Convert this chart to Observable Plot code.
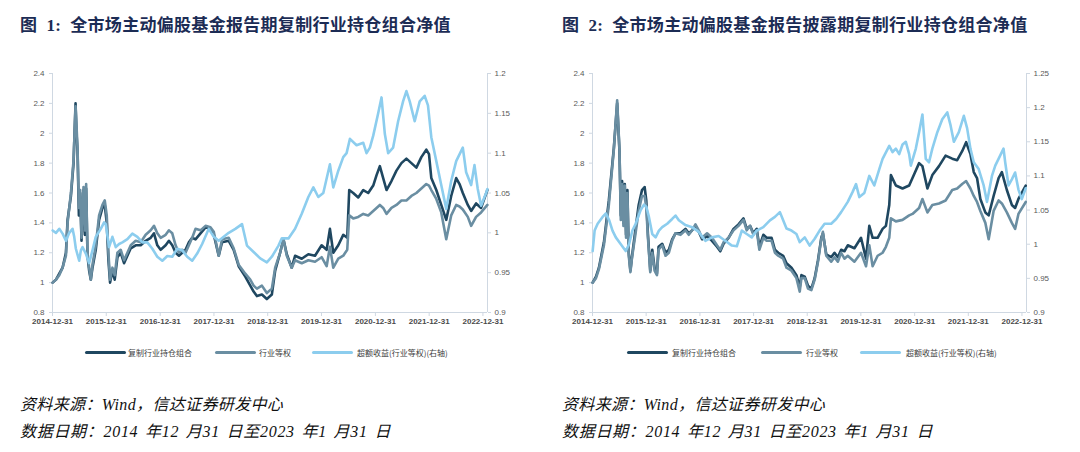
<!DOCTYPE html>
<html>
<head>
<meta charset="utf-8">
<script src="https://cdn.jsdelivr.net/npm/d3@7"></script>
<script src="https://cdn.jsdelivr.net/npm/@observablehq/plot@0.6"></script>
<style>
  html, body { margin: 0; padding: 0; background: #fff; }
  #page { position: relative; width: 1080px; height: 452px; overflow: hidden; background: #fff; }
  .title { position: absolute; top: 11px; font-family: "Liberation Serif", "Noto Sans CJK SC", serif; font-weight: 700; font-size: 17px; color: #1c2c55; white-space: pre; letter-spacing: 0.3px; }
  .chart { position: absolute; top: 60px; }
  .leg { position: absolute; top: 347px; height: 12px; font-family: "Noto Sans CJK SC", sans-serif; font-size: 8px; color: #404040; line-height: 12px; white-space: nowrap; }
  .sw { position: absolute; top: 351px; height: 3px; border-radius: 2px; }
  .note { position: absolute; font-family: "Liberation Serif", "Noto Sans CJK SC", serif; font-style: italic; font-size: 16px; color: #111; white-space: pre; }
</style>
</head>
<body>
<div id="page"></div>
<script>
// ---------------- data (decimal years; values) ----------------
const seriesNames = ["复制行业持仓组合", "行业等权", "超额收益(行业等权)(右轴)"];
const xTickLabels = ["2014-12-31","2015-12-31","2016-12-31","2017-12-31","2018-12-31","2019-12-31","2020-12-31","2021-12-31","2022-12-31"];
const leftTicks = [0.8, 1, 1.2, 1.4, 1.6, 1.8, 2, 2.2, 2.4];
const rightTicks1 = [0.9, 0.95, 1, 1.05, 1.1, 1.15, 1.2];
const rightTicks2 = [0.9, 0.95, 1, 1.05, 1.1, 1.15, 1.2, 1.25];

// Figure 1
const p1Dates = [2015.000,2015.062,2015.123,2015.185,2015.247,2015.278,2015.340,2015.389,2015.426,2015.444,
  2015.463,2015.488,2015.512,2015.537,2015.574,2015.599,2015.623,2015.648,2015.679,2015.710,
  2015.741,2015.802,2015.864,2015.926,2015.969,2016.006,2016.037,2016.068,2016.111,2016.154,
  2016.204,2016.265,2016.327,2016.389,2016.451,2016.543,2016.636,2016.728,2016.821,2016.883,
  2016.944,2017.006,2017.099,2017.160,2017.222,2017.284,2017.346,2017.407,2017.469,2017.531,
  2017.593,2017.654,2017.747,2017.840,2017.932,2017.994,2018.086,2018.148,2018.272,2018.364,
  2018.457,2018.580,2018.673,2018.735,2018.796,2018.889,2018.981,2019.074,2019.136,2019.228,
  2019.290,2019.352,2019.444,2019.506,2019.630,2019.753,2019.877,2020.000,2020.093,2020.154,
  2020.216,2020.309,2020.401,2020.475,2020.512,2020.586,2020.679,2020.772,2020.864,2020.957,
  2021.019,2021.080,2021.142,2021.204,2021.296,2021.389,2021.481,2021.574,2021.667,2021.759,
  2021.852,2021.944,2021.994,2022.037,2022.130,2022.222,2022.315,2022.407,2022.500,2022.562,
  2022.623,2022.716,2022.778,2022.870,2022.963,2023.080];
const p1Replica = [1.00,1.02,1.06,1.10,1.20,1.42,1.58,1.80,2.20,2.00,
  1.88,1.45,1.60,1.28,1.62,1.32,1.63,1.18,1.08,1.02,
  1.10,1.22,1.42,1.50,1.52,1.40,1.15,1.00,1.08,1.02,
  1.17,1.20,1.13,1.18,1.23,1.25,1.25,1.28,1.30,1.33,
  1.25,1.22,1.25,1.28,1.25,1.20,1.18,1.20,1.22,1.27,
  1.30,1.29,1.33,1.37,1.36,1.32,1.18,1.27,1.28,1.22,
  1.11,1.04,0.98,0.94,0.91,0.92,0.89,0.92,1.08,1.20,
  1.29,1.19,1.10,1.18,1.16,1.19,1.18,1.25,1.22,1.36,
  1.20,1.25,1.32,1.30,1.62,1.60,1.57,1.62,1.60,1.65,
  1.72,1.78,1.70,1.62,1.68,1.75,1.80,1.83,1.80,1.77,
  1.84,1.89,1.86,1.70,1.62,1.52,1.42,1.58,1.70,1.66,
  1.60,1.52,1.48,1.53,1.50,1.62];
const p1Equal = [1.00,1.02,1.05,1.10,1.18,1.40,1.60,1.82,2.18,2.05,
  1.90,1.50,1.62,1.30,1.64,1.35,1.66,1.20,1.10,1.02,
  1.12,1.25,1.45,1.52,1.55,1.45,1.20,1.02,1.10,1.05,
  1.20,1.22,1.15,1.20,1.25,1.28,1.27,1.32,1.35,1.38,
  1.33,1.30,1.32,1.35,1.33,1.25,1.20,1.22,1.20,1.25,
  1.30,1.36,1.35,1.38,1.37,1.34,1.18,1.29,1.30,1.23,
  1.12,1.06,1.02,0.98,0.96,0.98,0.93,0.96,1.10,1.20,
  1.29,1.18,1.10,1.15,1.13,1.15,1.14,1.17,1.11,1.24,
  1.10,1.16,1.18,1.22,1.45,1.43,1.44,1.46,1.45,1.48,
  1.50,1.52,1.50,1.46,1.50,1.52,1.55,1.55,1.58,1.60,
  1.63,1.66,1.65,1.62,1.56,1.47,1.29,1.45,1.52,1.51,
  1.49,1.44,1.38,1.44,1.47,1.52];
const p1ExcessDates = [2015.000,2015.062,2015.123,2015.185,2015.247,2015.309,2015.370,2015.401,2015.432,2015.494,
  2015.525,2015.556,2015.617,2015.679,2015.741,2015.802,2015.895,2015.957,2015.988,2016.049,
  2016.111,2016.173,2016.235,2016.296,2016.389,2016.481,2016.574,2016.667,2016.759,2016.852,
  2016.944,2017.037,2017.130,2017.222,2017.315,2017.407,2017.500,2017.593,2017.685,2017.778,
  2017.901,2017.994,2018.086,2018.179,2018.272,2018.395,2018.519,2018.611,2018.735,2018.858,
  2018.981,2019.074,2019.198,2019.259,2019.383,2019.506,2019.630,2019.753,2019.846,2019.938,
  2020.031,2020.154,2020.216,2020.309,2020.401,2020.463,2020.525,2020.648,2020.772,2020.833,
  2020.895,2020.957,2021.049,2021.111,2021.173,2021.235,2021.327,2021.420,2021.512,2021.574,
  2021.636,2021.728,2021.821,2021.914,2021.975,2022.037,2022.130,2022.222,2022.315,2022.407,
  2022.500,2022.623,2022.685,2022.778,2022.840,2022.901,2022.963,2023.056,2023.080];
const p1Excess = [1.003,1.000,1.005,0.999,0.990,1.000,1.005,0.995,0.980,0.965,
  0.978,0.982,0.974,0.962,0.978,0.995,1.005,1.013,1.011,0.982,
  0.995,0.982,0.986,0.988,0.992,0.999,0.995,0.988,0.988,0.980,
  0.970,0.965,0.971,0.970,0.980,0.978,0.970,0.965,0.974,0.986,
  1.005,0.995,0.990,0.995,1.000,1.005,1.011,0.984,0.976,0.968,
  0.963,0.970,0.984,0.993,0.993,1.005,1.024,1.045,1.057,1.045,
  1.050,1.086,1.057,1.078,1.095,1.100,1.118,1.110,1.113,1.100,
  1.107,1.122,1.150,1.170,1.124,1.100,1.107,1.140,1.165,1.178,
  1.165,1.140,1.165,1.172,1.160,1.120,1.090,1.060,1.030,1.065,
  1.090,1.107,1.076,1.060,1.085,1.055,1.034,1.050,1.055];

// Figure 2
const p2Dates = [2015.000,2015.062,2015.117,2015.210,2015.302,2015.395,2015.457,2015.500,2015.525,2015.549,
  2015.574,2015.599,2015.623,2015.648,2015.673,2015.704,2015.735,2015.796,2015.858,2015.920,
  2015.969,2016.000,2016.031,2016.074,2016.111,2016.154,2016.198,2016.228,2016.296,2016.358,
  2016.420,2016.481,2016.543,2016.636,2016.728,2016.790,2016.852,2016.914,2016.975,2017.037,
  2017.130,2017.222,2017.315,2017.377,2017.438,2017.531,2017.623,2017.716,2017.809,2017.870,
  2017.932,2017.994,2018.056,2018.105,2018.179,2018.241,2018.333,2018.395,2018.457,2018.549,
  2018.611,2018.704,2018.796,2018.858,2018.889,2018.951,2019.012,2019.074,2019.136,2019.198,
  2019.259,2019.290,2019.352,2019.444,2019.506,2019.568,2019.630,2019.691,2019.753,2019.877,
  2020.000,2020.093,2020.154,2020.216,2020.309,2020.401,2020.463,2020.525,2020.556,2020.648,
  2020.772,2020.895,2020.957,2021.080,2021.142,2021.235,2021.327,2021.451,2021.574,2021.698,
  2021.790,2021.883,2021.957,2022.037,2022.099,2022.160,2022.222,2022.315,2022.377,2022.469,
  2022.562,2022.623,2022.716,2022.809,2022.870,2022.932,2023.068];
const p2Replica = [1.00,1.04,1.10,1.27,1.55,1.90,2.20,1.88,1.45,1.68,
  1.40,1.66,1.32,1.62,1.20,1.08,1.18,1.35,1.52,1.62,
  1.64,1.55,1.32,1.08,1.22,1.10,1.06,1.24,1.26,1.20,
  1.22,1.29,1.33,1.33,1.36,1.33,1.35,1.38,1.34,1.29,
  1.31,1.28,1.24,1.21,1.26,1.30,1.36,1.39,1.43,1.36,
  1.38,1.33,1.36,1.24,1.32,1.30,1.30,1.22,1.20,1.18,
  1.13,1.10,1.05,0.97,1.05,1.04,0.98,0.96,1.03,1.15,
  1.30,1.33,1.19,1.17,1.20,1.17,1.22,1.21,1.25,1.23,
  1.30,1.16,1.38,1.30,1.30,1.36,1.38,1.52,1.72,1.65,
  1.63,1.65,1.70,1.80,1.78,1.63,1.72,1.78,1.85,1.83,
  1.82,1.88,1.94,1.86,1.74,1.70,1.56,1.47,1.45,1.58,
  1.70,1.74,1.62,1.52,1.50,1.56,1.65];
const p2Equal = [1.00,1.03,1.09,1.25,1.52,1.89,2.22,1.89,1.42,1.66,
  1.38,1.65,1.30,1.60,1.18,1.07,1.17,1.32,1.48,1.58,
  1.58,1.50,1.30,1.07,1.20,1.08,1.05,1.22,1.25,1.18,
  1.20,1.28,1.33,1.32,1.35,1.32,1.35,1.39,1.35,1.30,
  1.33,1.30,1.25,1.22,1.27,1.30,1.35,1.38,1.42,1.35,
  1.38,1.32,1.35,1.22,1.30,1.28,1.28,1.20,1.18,1.16,
  1.10,1.08,1.03,0.94,1.03,1.03,0.96,0.95,1.02,1.14,
  1.29,1.34,1.18,1.14,1.17,1.14,1.20,1.16,1.18,1.14,
  1.20,1.11,1.25,1.11,1.18,1.20,1.24,1.30,1.43,1.41,
  1.42,1.45,1.46,1.50,1.56,1.47,1.52,1.53,1.55,1.62,
  1.63,1.66,1.68,1.63,1.58,1.54,1.48,1.40,1.29,1.48,
  1.55,1.53,1.47,1.40,1.36,1.46,1.54];
const p2ExcessDates = [2015.000,2015.037,2015.093,2015.185,2015.247,2015.309,2015.370,2015.432,2015.525,2015.617,
  2015.679,2015.741,2015.802,2015.895,2015.957,2016.000,2016.049,2016.111,2016.173,2016.235,
  2016.296,2016.389,2016.481,2016.543,2016.605,2016.728,2016.852,2016.975,2017.099,2017.222,
  2017.346,2017.469,2017.593,2017.685,2017.778,2017.870,2017.963,2018.056,2018.179,2018.302,
  2018.395,2018.488,2018.549,2018.611,2018.704,2018.796,2018.858,2018.951,2019.043,2019.136,
  2019.228,2019.321,2019.444,2019.537,2019.630,2019.753,2019.846,2019.907,2019.969,2020.062,
  2020.154,2020.247,2020.340,2020.401,2020.525,2020.586,2020.648,2020.710,2020.772,2020.833,
  2020.895,2020.926,2021.019,2021.080,2021.142,2021.204,2021.265,2021.327,2021.420,2021.512,
  2021.605,2021.667,2021.728,2021.821,2021.914,2021.975,2022.037,2022.099,2022.191,2022.284,
  2022.346,2022.438,2022.500,2022.593,2022.654,2022.685,2022.747,2022.809,2022.870,2022.932,
  2022.994,2023.068];
const p2Excess = [0.990,1.020,1.030,1.040,1.045,1.035,1.020,1.010,1.000,0.990,
  1.000,1.020,1.030,1.050,1.058,1.055,1.040,1.015,1.010,1.020,
  1.025,1.030,1.037,1.042,1.035,1.028,1.025,1.018,1.005,1.010,
  1.012,1.005,0.998,0.997,1.020,1.015,1.010,1.020,1.025,1.035,
  1.040,1.047,1.035,1.023,1.020,1.015,1.003,1.010,0.998,1.008,
  1.020,1.030,1.030,1.037,1.047,1.062,1.077,1.088,1.069,1.075,
  1.100,1.086,1.110,1.125,1.144,1.135,1.140,1.132,1.146,1.150,
  1.132,1.115,1.140,1.164,1.190,1.125,1.120,1.140,1.164,1.183,
  1.193,1.174,1.150,1.164,1.188,1.170,1.140,1.120,1.110,1.086,
  1.062,1.100,1.115,1.130,1.140,1.120,1.086,1.095,1.105,1.080,
  1.066,1.082];

// ---------------- rendering ----------------
const COLORS = ["#1f4760", "#6a8ea2", "#8ccdee"];
const AXIS = "#cfd8e2";
const toDate = t => { const y = Math.floor(t); const s = Date.UTC(y, 0, 1), e = Date.UTC(y + 1, 0, 1); return new Date(s + (t - y) * (e - s)); };
const fmt = v => String(+(+v).toFixed(2));
const xStart = new Date(Date.UTC(2014, 11, 31)), xEnd = new Date(Date.UTC(2023, 0, 31));
const xTicks = xTickLabels.map(s => new Date(s + "T00:00:00Z"));

function panel(cfg) {
  const [r0, r1] = cfg.rightDomain;
  const toLeft = r => 0.8 + (r - r0) / (r1 - r0) * 1.6;
  const fromLeft = l => r0 + (l - 0.8) / 1.6 * (r1 - r0);
  const rep = cfg.dates.map((t, i) => ({date: toDate(t), v: cfg.replica[i]}));
  const eq = cfg.dates.map((t, i) => ({date: toDate(t), v: cfg.equal[i]}));
  const ex = cfg.exDates.map((t, i) => ({date: toDate(t), v: cfg.excess[i]}));
  return Plot.plot({
    width: 540, height: 275,
    marginLeft: 52, marginRight: cfg.marginRight, marginTop: 13, marginBottom: 23,
    style: {fontSize: "8px", fontFamily: "'Liberation Sans', Arial, sans-serif", background: "#fff", color: "#595959"},
    x: {type: "utc", domain: [xStart, xEnd]},
    y: {domain: [0.8, 2.4]},
    marks: [
      Plot.ruleX([xStart], {stroke: AXIS, strokeWidth: 1}),
      Plot.ruleX([xEnd], {stroke: AXIS, strokeWidth: 1}),
      Plot.ruleY([0.8], {stroke: AXIS, strokeWidth: 1.2}),
      Plot.axisY({ticks: leftTicks, anchor: "left", tickSize: 3, tickPadding: 5, tickFormat: fmt, stroke: AXIS, fill: "#595959", label: null}),
      Plot.axisY({ticks: cfg.rightTicks.map(toLeft), anchor: "right", tickSize: 3, tickPadding: 4, tickFormat: d => fmt(fromLeft(d)), stroke: AXIS, fill: "#595959", label: null}),
      Plot.axisX({ticks: xTicks, tickSize: 4, tickPadding: 2, tickFormat: d3.utcFormat("%Y-%m-%d"), stroke: AXIS, fill: "#4a4a4a", fontWeight: 600, label: null}),
      Plot.lineY(rep, {x: "date", y: "v", stroke: COLORS[0], strokeWidth: 2.6, strokeLinejoin: "round"}),
      Plot.lineY(eq, {x: "date", y: "v", stroke: COLORS[1], strokeWidth: 2.6, strokeLinejoin: "round"}),
      Plot.lineY(ex, {x: "date", y: d => toLeft(d.v), stroke: COLORS[2], strokeWidth: 2.6, strokeLinejoin: "round"})
    ]
  });
}

const page = document.getElementById("page");
function add(html, cls, style) {
  const el = document.createElement("div");
  el.className = cls; el.textContent = html; Object.assign(el.style, style); page.appendChild(el); return el;
}

add("图  1:  全市场主动偏股基金报告期复制行业持仓组合净值", "title", {left: "20px"});
add("图  2:  全市场主动偏股基金报告披露期复制行业持仓组合净值", "title", {left: "562px"});

const c1 = document.createElement("div"); c1.className = "chart"; c1.style.left = "0px";
c1.appendChild(panel({dates: p1Dates, replica: p1Replica, equal: p1Equal, exDates: p1ExcessDates, excess: p1Excess, rightDomain: [0.9, 1.2], rightTicks: rightTicks1, marginRight: 53}));
page.appendChild(c1);
const c2 = document.createElement("div"); c2.className = "chart"; c2.style.left = "540px";
c2.appendChild(panel({dates: p2Dates, replica: p2Replica, equal: p2Equal, exDates: p2ExcessDates, excess: p2Excess, rightDomain: [0.9, 1.25], rightTicks: rightTicks2, marginRight: 54}));
page.appendChild(c2);

// legends
const legPos = [
  [[85, 128], [215, 259], [312, 357]],
  [[627, 672], [761, 806], [860, 906]]
];
legPos.forEach(items => items.forEach(([sx, tx], i) => {
  const sw = document.createElement("div"); sw.className = "sw";
  Object.assign(sw.style, {left: sx + "px", width: "41px", background: COLORS[i]});
  page.appendChild(sw);
  add(seriesNames[i], "leg", {left: tx + "px"});
}));

// notes
[20, 562].forEach(x => {
  add("资料来源：Wind，信达证券研发中心", "note", {left: x + "px", top: "391px", letterSpacing: "0.35px"});
  add("数据日期：2014 年12 月31 日至2023 年1 月31 日", "note", {left: x + "px", top: "418px", letterSpacing: "0.7px", wordSpacing: "2px"});
});
</script>
</body>
</html>
